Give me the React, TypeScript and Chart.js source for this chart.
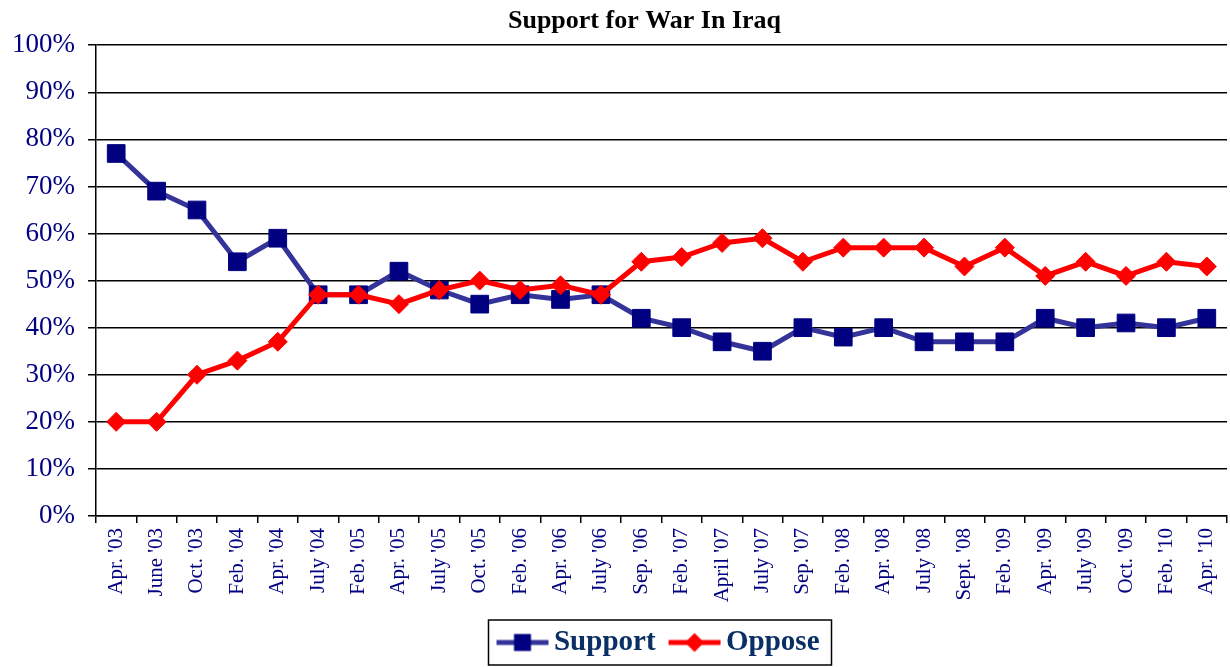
import React, { useEffect, useRef } from "react";
import { Chart, registerables } from "chart.js";

Chart.register(...registerables);

const categories: string[] = [
  "Apr. '03", "June '03", "Oct. '03", "Feb. '04", "Apr. '04", "July '04",
  "Feb. '05", "Apr. '05", "July '05", "Oct. '05", "Feb. '06", "Apr. '06",
  "July '06", "Sep. '06", "Feb. '07", "April '07", "July '07", "Sep. '07",
  "Feb. '08", "Apr. '08", "July '08", "Sept. '08", "Feb. '09", "Apr. '09",
  "July '09", "Oct. '09", "Feb. '10", "Apr. '10",
];

const supportValues: number[] = [
  77, 69, 65, 54, 59, 47, 47, 52, 48, 45, 47, 46, 47, 42,
  40, 37, 35, 40, 38, 40, 37, 37, 37, 42, 40, 41, 40, 42,
];

const opposeValues: number[] = [
  20, 20, 30, 33, 37, 47, 47, 45, 48, 50, 48, 49, 47, 54,
  55, 58, 59, 54, 57, 57, 57, 53, 57, 51, 54, 51, 54, 53,
];

const yTickValues: number[] = [0, 10, 20, 30, 40, 50, 60, 70, 80, 90, 100];

const TITLE = "Support for War In Iraq";
const SERIF = "'Liberation Serif', 'Times New Roman', serif";
const NAVY = "#000080";
const LEGEND_SHIFT = 49;
const TITLE_SHIFT = 31;

function makeLegendIcon(kind: "square" | "diamond"): HTMLCanvasElement {
  const c = document.createElement("canvas");
  c.width = 54;
  c.height = 24;
  const ctx = c.getContext("2d")!;
  ctx.lineWidth = 5;
  ctx.strokeStyle = kind === "square" ? "#333399" : "#FF0000";
  ctx.beginPath();
  ctx.moveTo(1, 12);
  ctx.lineTo(53, 12);
  ctx.stroke();
  if (kind === "square") {
    ctx.fillStyle = NAVY;
    ctx.fillRect(27 - 8.5, 12 - 8.5, 17, 17);
  } else {
    ctx.fillStyle = "#FF0000";
    ctx.beginPath();
    ctx.moveTo(27 - 9.5, 12);
    ctx.lineTo(27, 2.5);
    ctx.lineTo(27 + 9.5, 12);
    ctx.lineTo(27, 21.5);
    ctx.closePath();
    ctx.fill();
  }
  return c;
}

const shiftPlugin = {
  id: "shiftBoxes",
  afterLayout(chart: any) {
    const legend = chart.legend;
    if (legend) {
      legend.left += LEGEND_SHIFT;
      legend.right += LEGEND_SHIFT;
    }
    const title = chart.titleBlock;
    if (title) {
      title.left += TITLE_SHIFT;
      title.right += TITLE_SHIFT;
    }
  },
};

const borderPlugin = {
  id: "legendFrame",
  afterDraw(chart: any) {
    const legend = chart.legend;
    if (!legend || !legend.legendHitBoxes || !legend.legendHitBoxes.length) return;
    const boxes = legend.legendHitBoxes;
    let left = Infinity, right = -Infinity, top = Infinity, bottom = -Infinity;
    for (const b of boxes) {
      left = Math.min(left, b.left);
      right = Math.max(right, b.left + b.width);
      top = Math.min(top, b.top);
      bottom = Math.max(bottom, b.top + b.height);
    }
    const ctx = chart.ctx;
    ctx.save();
    ctx.strokeStyle = "#000000";
    ctx.lineWidth = 1.5;
    ctx.strokeRect(left - 17, top - 8, right - left + 29, bottom - top + 16);
    ctx.restore();
  },
};

export default function App() {
  const canvasRef = useRef<HTMLCanvasElement | null>(null);

  useEffect(() => {
    if (!canvasRef.current) return;
    const supportIcon = makeLegendIcon("square");
    const opposeIcon = makeLegendIcon("diamond");

    const chart = new Chart(canvasRef.current, {
      type: "line",
      data: {
        labels: categories,
        datasets: [
          {
            label: "Support",
            data: supportValues,
            borderColor: "#333399",
            backgroundColor: NAVY,
            borderWidth: 5,
            pointStyle: "rect",
            pointRadius: 12.5,
            pointBackgroundColor: NAVY,
            pointBorderColor: NAVY,
            pointBorderWidth: 1,
            tension: 0,
            order: 1,
          },
          {
            label: "Oppose",
            data: opposeValues,
            borderColor: "#FF0000",
            backgroundColor: "#FF0000",
            borderWidth: 5,
            pointStyle: "rectRot",
            pointRadius: 9.5,
            pointBackgroundColor: "#FF0000",
            pointBorderColor: "#FF0000",
            pointBorderWidth: 1,
            tension: 0,
            order: 0,
          },
        ],
      },
      options: {
        animation: false,
        responsive: true,
        maintainAspectRatio: false,
        layout: { autoPadding: false, padding: { left: 0, right: 3, top: 0, bottom: 0 } },
        plugins: {
          tooltip: { enabled: false },
          title: {
            display: true,
            text: TITLE,
            color: "#000000",
            font: { family: SERIF, size: 26, weight: "bold" },
            padding: { top: 6, bottom: 8 },
          },
          legend: {
            display: true,
            position: "bottom",
            labels: {
              usePointStyle: true,
              pointStyleWidth: 34,
              boxHeight: 20,
              padding: 22,
              color: "#0a2f66",
              font: { family: SERIF, size: 29, weight: "bold" },
              generateLabels: () => [
                {
                  text: "Support",
                  pointStyle: supportIcon as any,
                  fillStyle: NAVY,
                  strokeStyle: "transparent",
                  lineWidth: 0,
                  hidden: false,
                  datasetIndex: 0,
                  fontColor: "#0a2f66",
                },
                {
                  text: "Oppose",
                  pointStyle: opposeIcon as any,
                  fillStyle: "#FF0000",
                  strokeStyle: "transparent",
                  lineWidth: 0,
                  hidden: false,
                  datasetIndex: 1,
                  fontColor: "#0a2f66",
                },
              ],
            },
          },
        },
        scales: {
          x: {
            type: "category",
            offset: true,
            grid: {
              offset: true,
              drawOnChartArea: false,
              drawTicks: true,
              tickLength: 7,
              color: "#000000",
              lineWidth: 1.5,
            },
            border: { display: true, color: "#000000", width: 1.5 },
            ticks: {
              color: NAVY,
              font: { family: SERIF, size: 21 },
              minRotation: 90,
              maxRotation: 90,
              autoSkip: false,
              padding: 5,
            },
            afterFit: (scale: any) => {
              scale.height = 90;
              scale.paddingLeft = 0;
              scale.paddingRight = 0;
            },
          },
          y: {
            min: 0,
            max: 100,
            afterBuildTicks: (scale: any) => {
              scale.ticks = yTickValues.map((v) => ({ value: v }));
            },
            grid: {
              color: "#000000",
              lineWidth: 1.5,
              drawTicks: true,
              tickLength: 8,
            },
            border: { display: true, color: "#000000", width: 1.5 },
            ticks: {
              color: NAVY,
              font: { family: SERIF, size: 27 },
              padding: 13,
              callback: (v: any) => `${v}%`,
            },
            afterFit: (scale: any) => {
              scale.width = 96;
            },
          },
        },
      },
      plugins: [shiftPlugin, borderPlugin],
    });

    return () => {
      chart.destroy();
    };
  }, []);

  return (
    <div
      style={{
        position: "fixed",
        left: 0,
        top: 0,
        width: 1230,
        height: 667,
        background: "#ffffff",
      }}
    >
      <canvas ref={canvasRef} />
    </div>
  );
}
